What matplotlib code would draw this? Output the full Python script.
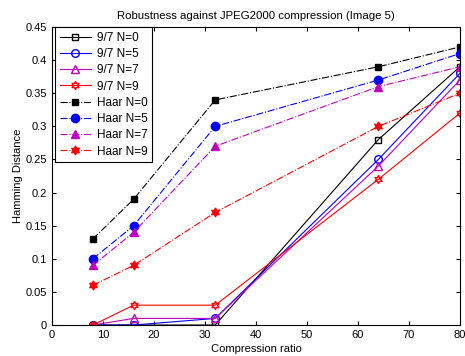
import matplotlib
matplotlib.use("Agg")
import matplotlib.pyplot as plt

# 压缩比
ratios = [8, 16, 32, 64, 80]

# 9/7 小波
w97_n0 = [0, 0, 0, 0.28, 0.39]
w97_n5 = [0, 0, 0.01, 0.25, 0.38]
w97_n7 = [0, 0.01, 0.01, 0.24, 0.37]
w97_n9 = [0, 0.03, 0.03, 0.22, 0.32]

# Haar 小波
haar_n0 = [0.13, 0.19, 0.34, 0.39, 0.42]
haar_n5 = [0.10, 0.15, 0.30, 0.37, 0.41]
haar_n7 = [0.09, 0.14, 0.27, 0.36, 0.39]
haar_n9 = [0.06, 0.09, 0.17, 0.30, 0.35]

y_ticks = [0, 0.05, 0.1, 0.15, 0.2, 0.25, 0.3, 0.35, 0.4, 0.45]
y_tick_labels = ["0", "0.05", "0.1", "0.15", "0.2", "0.25", "0.3", "0.35", "0.4", "0.45"]

plt.rcParams["font.family"] = ["Liberation Sans", "DejaVu Sans"]
plt.rcParams["font.size"] = 8

fig = plt.figure(figsize=(4.65, 3.56), dpi=100)
ax = fig.add_axes([0.112, 0.087, 0.877, 0.837])

hexagram = (6, 1, 0)

ax.plot(ratios, w97_n0, "-", color="k", lw=0.8, marker="s", mfc="none", ms=4.5, label="9/7 N=0")
ax.plot(ratios, w97_n5, "-", color="b", lw=0.8, marker="o", mfc="none", ms=5.5, label="9/7 N=5")
ax.plot(ratios, w97_n7, "-", color="m", lw=0.8, marker="^", mfc="none", ms=5.5, label="9/7 N=7")
ax.plot(ratios, w97_n9, "-", color="r", lw=0.8, marker=hexagram, mfc="none", ms=6, label="9/7 N=9")

ax.plot(ratios, haar_n0, "-.", color="k", lw=0.8, marker="s", ms=4.5, label="Haar N=0")
ax.plot(ratios, haar_n5, "-.", color="b", lw=0.8, marker="o", ms=6, label="Haar N=5")
ax.plot(ratios, haar_n7, "-.", color="m", lw=0.8, marker="^", ms=6, label="Haar N=7")
ax.plot(ratios, haar_n9, "-.", color="r", lw=0.8, marker=hexagram, ms=6.5, label="Haar N=9")

ax.set_xlim(0, 80)
ax.set_ylim(0, 0.45)
ax.set_xticks(range(0, 81, 10))
ax.set_yticks(y_ticks)
ax.set_yticklabels(y_tick_labels)
ax.tick_params(direction="in", top=True, right=True, length=3, labelsize=8)
for sp in ax.spines.values():
    sp.set_linewidth(0.8)

ax.set_xlabel("Compression ratio", fontsize=8, labelpad=3)
ax.set_ylabel("Hamming Distance", fontsize=8, labelpad=2)
ax.set_title("Robustness against JPEG2000 compression (Image 5)", fontsize=8.2, pad=6)

leg = ax.legend(loc="upper left", bbox_to_anchor=(0.008, 1.0), fontsize=8.5, fancybox=False,
                framealpha=1, edgecolor="k", borderaxespad=0.0, handlelength=2.6,
                labelspacing=0.36, borderpad=0.4, handletextpad=0.5)
leg.get_frame().set_linewidth(0.8)

plt.savefig("out.png", dpi=100)
plt.close()
